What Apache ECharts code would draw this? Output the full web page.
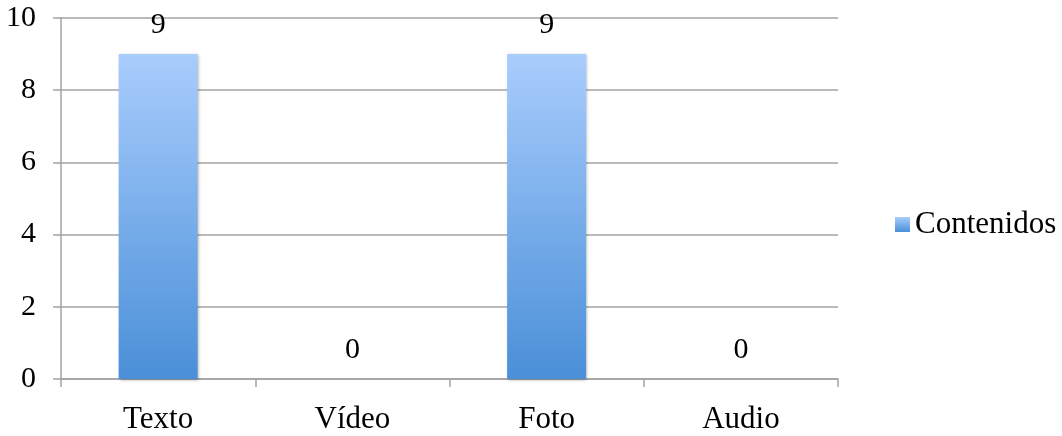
<!DOCTYPE html>
<html>
<head>
<meta charset="utf-8">
<script src="https://cdn.jsdelivr.net/npm/echarts@6/dist/echarts.min.js"></script>
<style>
  html, body { margin: 0; padding: 0; background: #ffffff; }
  #chart { width: 1062px; height: 436px; }
</style>
</head>
<body>
<div id="chart"></div>
<script>
// Content types and how many items of each
const categories = ['Texto', 'Vídeo', 'Foto', 'Audio'];
const contenidos = [9, 0, 9, 0];
const seriesName = 'Contenidos';
const yTicks = { min: 0, max: 10, interval: 2 };

const serif = '"Liberation Serif", "Times New Roman", serif';
const gridGrey = '#a3a3a3';

const chart = echarts.init(document.getElementById('chart'), null, { renderer: 'canvas' });

chart.setOption({
  animation: false,
  backgroundColor: '#ffffff',
  textStyle: { fontFamily: serif, color: '#000000' },
  grid: { left: 61, right: 224, top: 18, bottom: 57, containLabel: false },
  legend: {
    show: true,
    orient: 'vertical',
    left: 890,
    top: 204,
    icon: 'rect',
    itemWidth: 15,
    itemHeight: 15,
    itemGap: 6,
    textStyle: { fontFamily: serif, fontSize: 31, color: '#000000' },
    data: [seriesName]
  },
  xAxis: {
    type: 'category',
    data: categories,
    axisLine: { show: true, lineStyle: { color: gridGrey, width: 1.5 } },
    axisTick: { show: true, length: 8, lineStyle: { color: gridGrey, width: 1.5 } },
    axisLabel: { fontFamily: serif, fontSize: 31, color: '#000000', margin: 25 },
    splitLine: { show: false }
  },
  yAxis: {
    type: 'value',
    min: yTicks.min,
    max: yTicks.max,
    interval: yTicks.interval,
    axisLine: { show: true, lineStyle: { color: gridGrey, width: 1.5 } },
    axisTick: { show: true, length: 8, lineStyle: { color: gridGrey, width: 1.5 } },
    axisLabel: { fontFamily: serif, fontSize: 30, color: '#000000', margin: 25 },
    splitLine: { show: true, lineStyle: { color: gridGrey, width: 1.5 } }
  },
  series: [{
    name: seriesName,
    type: 'bar',
    data: contenidos,
    barWidth: 79,
    itemStyle: {
      color: new echarts.graphic.LinearGradient(0, 0, 0, 1, [
        { offset: 0, color: '#a9cdfd' },
        { offset: 1, color: '#4a8fd8' }
      ]),
      shadowBlur: 3,
      shadowOffsetX: 1,
      shadowOffsetY: 1,
      shadowColor: 'rgba(0,0,0,0.3)'
    },
    label: {
      show: true,
      position: 'top',
      distance: 14,
      fontFamily: serif,
      fontSize: 30,
      color: '#000000'
    }
  }]
});
</script>
</body>
</html>
